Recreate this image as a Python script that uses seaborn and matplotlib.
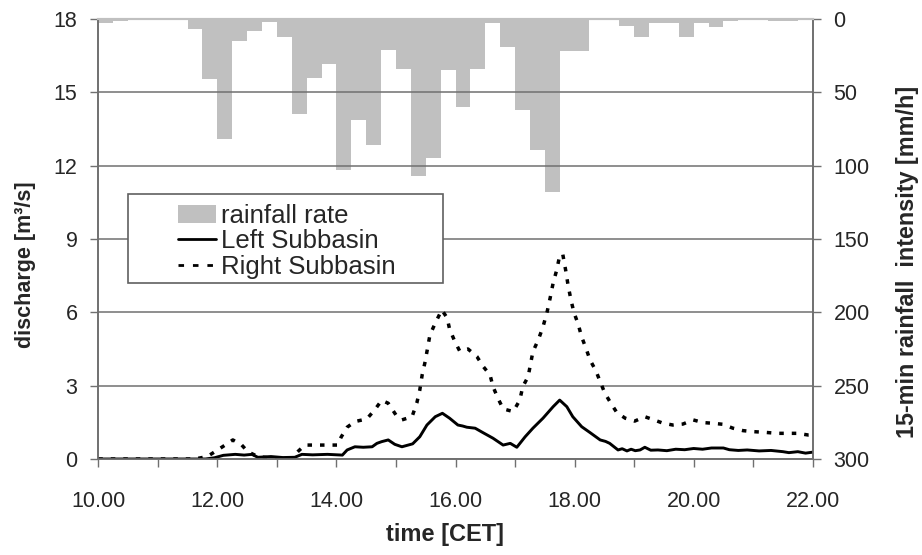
import numpy as np
import pandas as pd
import matplotlib
matplotlib.use("Agg")
import matplotlib.pyplot as plt
import seaborn as sns
from matplotlib.patches import Patch, Rectangle
from matplotlib.lines import Line2D

# ---------------- data ----------------
# 15-min rainfall intensity [mm/h], bars starting at 10.00, 10.25, ...
rain_start = [10.0 + 0.25 * k for k in range(48)]
rain_rate = [3, 1.5, 0, 0, 0, 0, 7, 41, 82, 15, 8, 2,
             12, 65, 40, 31, 103, 69, 86, 21, 34, 107, 95, 35,
             60, 34, 3, 19, 62, 89, 118, 22, 22, 1, 1, 5,
             12.5, 2.5, 3, 12.5, 2.5, 5.5, 1.5, 1, 0.5, 1.5, 1.5, 0.5]

# Right subbasin discharge [m3/s]
right_time = [10.00, 11.60, 11.66, 11.83, 11.96, 12.13, 12.26, 12.41, 12.51, 12.68,
              12.85, 13.25, 13.35, 13.47, 14.02, 14.08, 14.18, 14.31, 14.51, 14.64,
              14.76, 14.87, 15.00, 15.10, 15.27, 15.35, 15.40, 15.44, 15.49, 15.57,
              15.66, 15.77, 15.86, 15.90, 15.99, 16.07, 16.21, 16.36, 16.46, 16.58,
              16.63, 16.71, 16.80, 16.97, 17.08, 17.13, 17.22, 17.30, 17.39, 17.47,
              17.54, 17.59, 17.64, 17.70, 17.74, 17.80, 17.85, 17.89, 17.94, 17.99,
              18.06, 18.12, 18.19, 18.26, 18.36, 18.44, 18.51, 18.61, 18.71, 18.85,
              19.01, 19.18, 19.31, 19.48, 19.65, 19.82, 19.99, 20.16, 20.33, 20.49,
              20.66, 20.83, 21.00, 21.20, 21.40, 21.57, 21.74, 21.93, 22.00]
right_q = [0.0, 0.0, 0.02, 0.1, 0.3, 0.57, 0.78, 0.57, 0.3, 0.1,
           0.05, 0.05, 0.3, 0.57, 0.57, 0.9, 1.3, 1.53, 1.64, 2.0,
           2.4, 2.28, 1.8, 1.6, 1.73, 2.29, 2.82, 3.44, 3.98, 5.07,
           5.56, 6.1, 5.77, 5.32, 4.8, 4.42, 4.5, 4.19, 3.8, 3.44,
           2.96, 2.5, 2.05, 1.94, 2.41, 2.96, 3.37, 4.39, 4.87, 5.41,
           6.03, 6.59, 7.2, 7.73, 8.2, 8.4, 7.73, 7.12, 6.5, 5.99,
           5.52, 4.99, 4.54, 4.05, 3.6, 3.1, 2.69, 2.28, 1.9, 1.67,
           1.55, 1.73, 1.62, 1.47, 1.39, 1.43, 1.6, 1.49, 1.46, 1.42,
           1.26, 1.16, 1.12, 1.09, 1.05, 1.05, 1.05, 0.98, 0.98]

# Left subbasin discharge [m3/s]
left_time = [10.00, 11.80, 11.95, 12.10, 12.30, 12.45, 12.58, 12.68, 12.90, 13.10,
             13.30, 13.42, 13.60, 13.85, 14.10, 14.18, 14.31, 14.45, 14.60, 14.68,
             14.76, 14.87, 14.98, 15.10, 15.28, 15.40, 15.52, 15.66, 15.78, 15.90,
             16.04, 16.12, 16.19, 16.33, 16.46, 16.63, 16.80, 16.92, 17.03, 17.17,
             17.30, 17.47, 17.64, 17.75, 17.87, 17.97, 18.12, 18.26, 18.43, 18.52,
             18.59, 18.73, 18.80, 18.88, 18.95, 19.02, 19.10, 19.18, 19.28, 19.40,
             19.55, 19.70, 19.85, 20.00, 20.15, 20.30, 20.50, 20.60, 20.75, 20.90,
             21.10, 21.30, 21.50, 21.60, 21.75, 21.88, 22.00]
left_q = [0.0, 0.0, 0.05, 0.15, 0.19, 0.16, 0.19, 0.07, 0.1, 0.06,
          0.07, 0.19, 0.17, 0.19, 0.16, 0.37, 0.5, 0.48, 0.5, 0.64,
          0.71, 0.78, 0.6, 0.5, 0.62, 0.91, 1.39, 1.73, 1.87, 1.67,
          1.39, 1.35, 1.3, 1.26, 1.08, 0.85, 0.57, 0.64, 0.48, 0.91,
          1.26, 1.67, 2.14, 2.41, 2.14, 1.73, 1.32, 1.08, 0.78, 0.72,
          0.64, 0.37, 0.42, 0.33, 0.40, 0.34, 0.37, 0.48, 0.36, 0.37,
          0.34, 0.40, 0.38, 0.43, 0.40, 0.45, 0.45, 0.38, 0.35, 0.37,
          0.33, 0.35, 0.3, 0.26, 0.30, 0.24, 0.28]

q_ticks = [0, 3, 6, 9, 12, 15, 18]
r_ticks = [0, 50, 100, 150, 200, 250, 300]
x_ticks = list(range(10, 23))
x_labels = [f"{h}.00" if h % 2 == 0 else "" for h in x_ticks]

# ---------------- style ----------------
sns.set_style("white")
plt.rcParams["font.family"] = ["Liberation Sans", "DejaVu Sans"]

AX_GRAY = "#707070"
BAR_GRAY = "#c0c0c0"

fig = plt.figure(figsize=(9.22, 5.55), dpi=100)
ax = fig.add_axes([98.3 / 922, 96 / 555, 714.4 / 922, 440 / 555])
ax2 = ax.twinx()
ax2.set_zorder(ax.get_zorder() - 1)
ax.patch.set_visible(False)

# rainfall bars (hanging from top)
ax2.bar(rain_start, rain_rate, width=0.25, align="edge", color=BAR_GRAY,
        edgecolor="none", linewidth=0)
ax2.set_ylim(300, 0)
ax2.set_yticks(r_ticks)
ax2.set_yticklabels([str(v) for v in r_ticks])
ax2.yaxis.grid(True, color=AX_GRAY, linewidth=1.1)
ax2.set_axisbelow(False)
ax2.xaxis.grid(False)

# discharge lines
df_left = pd.DataFrame({"time": left_time, "q": left_q})
df_right = pd.DataFrame({"time": right_time, "q": right_q})
sns.lineplot(data=df_left, x="time", y="q", ax=ax, color="black",
             linewidth=2.1, legend=False)
sns.lineplot(data=df_right, x="time", y="q", ax=ax, color="black",
             linewidth=2.5, linestyle=(0, (1.3, 2.3)), legend=False)

ax.set_xlim(10, 22)
ax.set_ylim(0, 18)
ax.set_yticks(q_ticks)
ax.set_yticklabels([str(v) for v in q_ticks])
ax.set_xticks(x_ticks)
ax.set_xticklabels(x_labels)
ax.set_xlabel("")
ax.set_ylabel("")
ax2.set_ylabel("")
ax.grid(False)

for a in (ax, ax2):
    for s in a.spines.values():
        s.set_color(AX_GRAY)
        s.set_linewidth(1.2)
    a.spines["top"].set_color(BAR_GRAY)
    a.spines["top"].set_linewidth(1.5)

ax.tick_params(axis="y", direction="out", length=6, width=1, color=AX_GRAY,
               labelsize=15.5, pad=9, left=True)
ax.tick_params(axis="x", direction="out", length=6, width=1, color=AX_GRAY,
               labelsize=15.5, pad=17, bottom=True)
ax2.tick_params(axis="y", direction="out", length=6, width=1, color=AX_GRAY,
                labelsize=15.5, pad=9, right=True)

# axis titles
fig.text(25 / 922, 1 - 265 / 555, "discharge [m³/s]", rotation=90,
         ha="center", va="center", fontsize=15.5, fontweight="bold")
fig.text(907 / 922, 1 - 262 / 555, "15-min rainfall  intensity [mm/h]",
         rotation=90, ha="center", va="center", fontsize=16.8, fontweight="bold")
fig.text(445 / 922, 1 - 535 / 555, "time [CET]", ha="center", va="center",
         fontsize=17, fontweight="bold")

# legend box + legend
ax.add_patch(Rectangle((0.0416, 0.40), 0.441, 0.202, transform=ax.transAxes,
                       facecolor="white", edgecolor="#606060", linewidth=1.2,
                       zorder=5))
handles = [Patch(facecolor=BAR_GRAY, edgecolor="none"),
           Line2D([0], [0], color="black", linewidth=2),
           Line2D([0], [0], color="black", linewidth=2, linestyle=(0, (2.0, 3.2)))]
labels = ["rainfall rate", "Left Subbasin", "Right Subbasin"]
leg = ax.legend(handles, labels, loc="upper left", bbox_to_anchor=(0.087, 0.620),
                frameon=False, fontsize=18.5, handlelength=1.45, handleheight=0.7,
                handletextpad=0.22, labelspacing=0.05, borderpad=0.2)
leg.set_zorder(6)

fig.savefig("out.png", dpi=100)
